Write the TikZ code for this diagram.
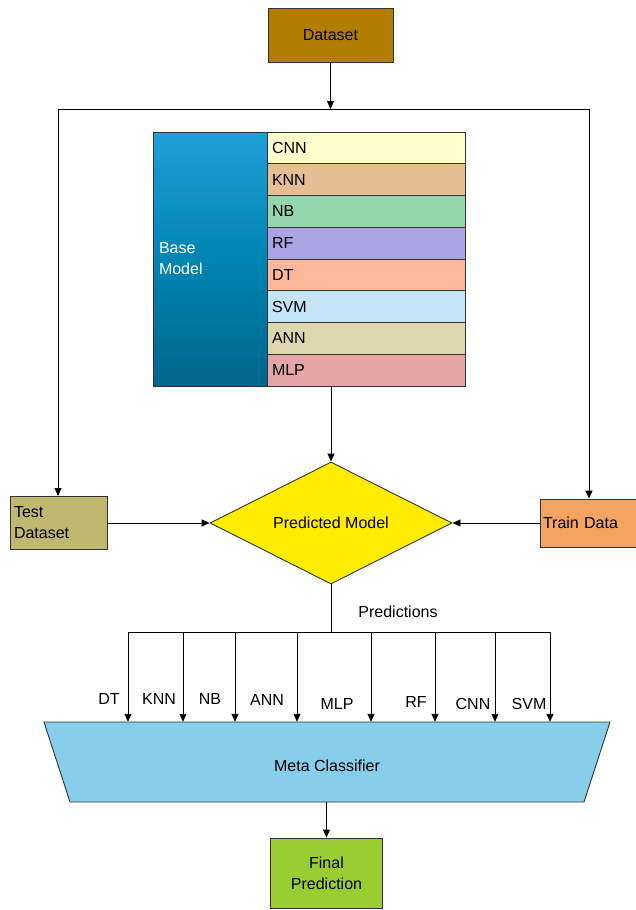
\documentclass[tikz,border=0pt]{standalone}
\usepackage{fontspec}
\setmainfont{Liberation Sans}
\usetikzlibrary{arrows.meta,shapes.geometric}
\definecolor{vizDataset}{HTML}{B37D00}
\definecolor{vizTest}{HTML}{BFB86F}
\definecolor{vizTrain}{HTML}{F4A460}
\definecolor{vizPred}{HTML}{FFEC00}
\definecolor{vizMeta}{HTML}{87CEEB}
\definecolor{vizFinal}{HTML}{9ACD32}
\definecolor{vizBaseTop}{HTML}{20A0D8}
\definecolor{vizBaseMid}{HTML}{0084B2}
\definecolor{vizBaseBot}{HTML}{00668C}
\definecolor{vizCnn}{HTML}{FFFFCC}
\definecolor{vizKnn}{HTML}{E5BE96}
\definecolor{vizNb}{HTML}{93D6AE}
\definecolor{vizRf}{HTML}{ABA3E3}
\definecolor{vizDt}{HTML}{FFB79C}
\definecolor{vizSvm}{HTML}{C2E4F4}
\definecolor{vizAnn}{HTML}{DCD7AF}
\definecolor{vizMlp}{HTML}{E4A5A6}
\definecolor{vizEdge}{HTML}{333333}
\tikzset{
  box/.style={draw=vizEdge, line width=0.9pt, inner sep=0pt, align=center},
  rowbox/.style={draw=vizEdge, line width=0.9pt, minimum height=31.75pt, text width=188pt, inner xsep=5pt, inner ysep=0pt, align=left},
  arr/.style={draw=black, line width=0.9pt, -{Triangle[length=8pt,width=7pt]}},
  wire/.style={draw=black, line width=0.9pt}
}

\begin{document}
\begin{tikzpicture}[x=1pt, y=-1pt, font=\fontsize{16}{21}\selectfont]
  \useasboundingbox (0,0) rectangle (636,910);
  % inputs
  \node[box, fill=vizDataset, minimum width=125pt, minimum height=54pt] (dataset) at (330.5,35) {Dataset};
  \node[box, fill=vizTest, minimum width=97pt, minimum height=53pt, text width=89pt, align=left] (test) at (58.5,523) {Test\\Dataset};
  \node[box, fill=vizTrain, minimum width=96pt, minimum height=48pt, text width=90pt, align=left] (train) at (588,523) {Train Data};
  % base models
  \node[box, draw=vizEdge, top color=vizBaseTop, bottom color=vizBaseBot, middle color=vizBaseMid, minimum width=114pt, minimum height=254pt, text width=102pt, align=left, text=white] (base) at (210,259) {Base\\Model};
  \foreach \name/\col [count=\i] in {CNN/vizCnn, KNN/vizKnn, NB/vizNb, RF/vizRf, DT/vizDt, SVM/vizSvm, ANN/vizAnn, MLP/vizMlp}
    \node[rowbox, fill=\col] (row\i) at (366, 132+31.75*\i-15.875) {\name};
  % predicted model
  \node[box, fill=vizPred, shape=diamond, aspect=2, minimum width=242pt, minimum height=122pt] (pred) at (331,523) {Predicted Model};
  % meta classifier and output
  \filldraw[fill=vizMeta, draw=vizEdge, line width=0.9pt] (44,722) -- (610,722) -- (584,802) -- (70,802) -- cycle;
  \node[minimum width=566pt, minimum height=80pt, inner sep=0pt] (meta) at (327,762) {};
  \node (metatext) at (327,766) {Meta Classifier};
  \node[box, fill=vizFinal, minimum width=112pt, minimum height=70pt] (final) at (326.5,873) {Final\\Prediction};

  % split of the dataset
  \coordinate (splitL) at (58,109);
  \coordinate (splitR) at (589,109);
  \draw[wire] (splitL) -- (splitR);
  \draw[arr] (dataset) -- (dataset |- splitL);
  \draw[arr] (splitL) -- (splitL |- test.north);
  \draw[arr] (splitR) -- (splitR |- train.north);
  \draw[arr] (pred.north |- row8.south) -- (pred.north);
  \draw[arr] (test.east) -- (pred.west);
  \draw[arr] (train.west) -- (pred.east);

  % predictions fan out
  \coordinate (fork) at (331,632);
  \coordinate (forkL) at (128,632);
  \coordinate (forkR) at (550,632);
  \draw[wire] (pred.south) -- (fork);
  \draw[wire] (forkL) -- (forkR);
  \node (predictions) at (398,612) {Predictions};
  \foreach \x/\lx/\ly/\lab [count=\i] in {128/109/699/DT, 183/159/699/KNN, 235/210/699/NB, 297/267/700/ANN, 371/337/704/MLP, 435/416/702/RF, 495/473/704/CNN, 550/529/704/SVM} {
    \coordinate (drop\i) at (\x,632);
    \draw[arr] (drop\i) -- (drop\i |- meta.north);
    \node (lab\i) at (\lx,\ly) {\lab};
  }
  \draw[arr] (final.north |- meta.south) -- (final.north);
\end{tikzpicture}
\end{document}
